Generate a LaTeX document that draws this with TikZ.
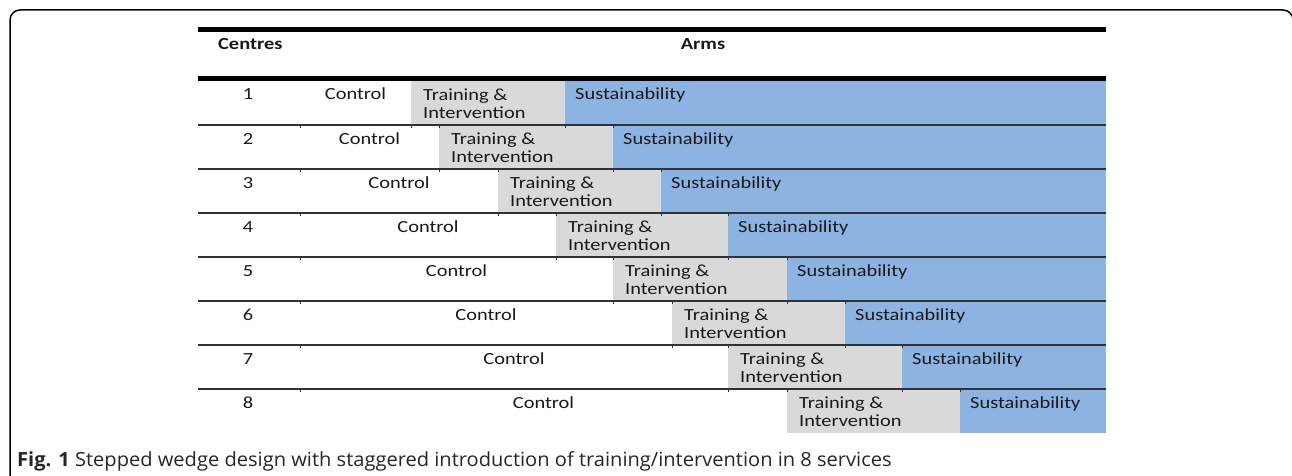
\documentclass[tikz,border=0pt]{standalone}
\usepackage{fontspec}
\setmainfont[FakeStretch=1.2]{Carlito}
\newfontfamily\capfont[FakeStretch=1.03]{Open Sans}
\definecolor{trgray}{RGB}{217,217,217}
\definecolor{susblue}{RGB}{141,179,226}
\definecolor{rulegray}{RGB}{50,50,50}

\begin{document}
\begin{tikzpicture}[x=1pt,y=-1pt]
	% `train' and `sust' are the shaded arm blocks of each row.
	% `lbl' is used for the table text, `lblw' for left aligned text.
	\tikzstyle{cell} = [anchor=north west,inner sep=0pt,minimum height=44pt]
	\tikzstyle{train} = [cell,fill=trgray]
	\tikzstyle{sust} = [cell,fill=susblue]
	\tikzstyle{lbl} = [inner sep=0pt,anchor=base,font=\fontsize{17}{18}\selectfont,text=black!90]
	\tikzstyle{lblw} = [lbl,anchor=north west,align=left]
	\tikzstyle{rowline} = [draw=rulegray,line width=1.4pt]
	\tikzstyle{thickrule} = [draw=black,line width=5pt]
	\useasboundingbox (0,0) rectangle (1292,476);
	% Outer frame, open at the bottom.
	\draw[line width=1.5pt,rounded corners=10pt] (10,500) -- (10,10) -- (1293,10) -- (1293,500);
	%
	% Arm blocks.
	\node[train,minimum width=154pt] (t1) at (411,81) {};
	\node[sust,minimum width=541pt] (s1) at (565,81) {};
	\node[train,minimum width=174pt] (t2) at (439,125) {};
	\node[sust,minimum width=493pt] (s2) at (613,125) {};
	\node[train,minimum width=163pt] (t3) at (498,169) {};
	\node[sust,minimum width=445pt] (s3) at (661,169) {};
	\node[train,minimum width=172pt] (t4) at (556,213) {};
	\node[sust,minimum width=378pt] (s4) at (728,213) {};
	\node[train,minimum width=174pt] (t5) at (613,257) {};
	\node[sust,minimum width=319pt] (s5) at (787,257) {};
	\node[train,minimum width=173pt] (t6) at (672,301) {};
	\node[sust,minimum width=261pt] (s6) at (845,301) {};
	\node[train,minimum width=174pt] (t7) at (728,345) {};
	\node[sust,minimum width=204pt] (s7) at (902,345) {};
	\node[train,minimum width=173pt] (t8) at (787,389) {};
	\node[sust,minimum width=146pt] (s8) at (960,389) {};
	%
	% Header and rules.
	\draw[thickrule] (198,30) -- (1106,30);
	\draw[thickrule] (198,78.5) -- (1106,78.5);
	\node[lbl,anchor=base west,font=\fontsize{17}{18}\selectfont\bfseries] (centres) at (218,50) {Centres};
	\node[lbl,font=\fontsize{17}{18}\selectfont\bfseries] (arms) at (703,50) {Arms};
	\foreach \y in {125,169,213,257,301,345,389}
		\draw[rowline] (198,\y) -- (1106,\y);
	% Small cell border ticks below each row line.
	\foreach \y/\a/\b/\c/\d in {125/411/565/439/613, 169/439/613/498/661, 213/498/661/556/728,
		257/556/728/613/787, 301/613/787/672/845, 345/672/845/728/902, 389/728/902/787/960}
		\draw[rulegray,line width=1pt] (300,\y) -- +(0,3) (\a,\y) -- +(0,3) (\b,\y) -- +(0,3)
			(\c,\y) -- +(0,3) (\d,\y) -- +(0,3);
	%
	% Row text.
	\node[lbl] (n1) at (248,100) {1};
	\node[lbl] (c1) at (355.5,100) {Control};
	\node[lblw] (tl1) at ([shift={(12,8)}]t1.north west) {Training \&\\Intervention};
	\node[lbl,anchor=base west] (sl1) at ([shift={(10,19)}]s1.north west) {Sustainability};
	\node[lbl] (n2) at (248,144) {2};
	\node[lbl] (c2) at (369.5,144) {Control};
	\node[lblw] (tl2) at ([shift={(12,8)}]t2.north west) {Training \&\\Intervention};
	\node[lbl,anchor=base west] (sl2) at ([shift={(10,19)}]s2.north west) {Sustainability};
	\node[lbl] (n3) at (248,188) {3};
	\node[lbl] (c3) at (399,188) {Control};
	\node[lblw] (tl3) at ([shift={(12,8)}]t3.north west) {Training \&\\Intervention};
	\node[lbl,anchor=base west] (sl3) at ([shift={(10,19)}]s3.north west) {Sustainability};
	\node[lbl] (n4) at (248,232) {4};
	\node[lbl] (c4) at (428,232) {Control};
	\node[lblw] (tl4) at ([shift={(12,8)}]t4.north west) {Training \&\\Intervention};
	\node[lbl,anchor=base west] (sl4) at ([shift={(10,19)}]s4.north west) {Sustainability};
	\node[lbl] (n5) at (248,276) {5};
	\node[lbl] (c5) at (456.5,276) {Control};
	\node[lblw] (tl5) at ([shift={(12,8)}]t5.north west) {Training \&\\Intervention};
	\node[lbl,anchor=base west] (sl5) at ([shift={(10,19)}]s5.north west) {Sustainability};
	\node[lbl] (n6) at (248,320) {6};
	\node[lbl] (c6) at (486,320) {Control};
	\node[lblw] (tl6) at ([shift={(12,8)}]t6.north west) {Training \&\\Intervention};
	\node[lbl,anchor=base west] (sl6) at ([shift={(10,19)}]s6.north west) {Sustainability};
	\node[lbl] (n7) at (248,364) {7};
	\node[lbl] (c7) at (514,364) {Control};
	\node[lblw] (tl7) at ([shift={(12,8)}]t7.north west) {Training \&\\Intervention};
	\node[lbl,anchor=base west] (sl7) at ([shift={(10,19)}]s7.north west) {Sustainability};
	\node[lbl] (n8) at (248,408) {8};
	\node[lbl] (c8) at (543.5,408) {Control};
	\node[lblw] (tl8) at ([shift={(12,8)}]t8.north west) {Training \&\\Intervention};
	\node[lbl,anchor=base west] (sl8) at ([shift={(10,19)}]s8.north west) {Sustainability};
	%
	% Caption.
	\node[anchor=base west,inner sep=0pt,font=\capfont\fontsize{19.5}{21}\selectfont,text=black!85] (caption) at (17,466)
		{\textbf{Fig. 1} Stepped wedge design with staggered introduction of training/intervention in 8 services};
\end{tikzpicture}
\end{document}
